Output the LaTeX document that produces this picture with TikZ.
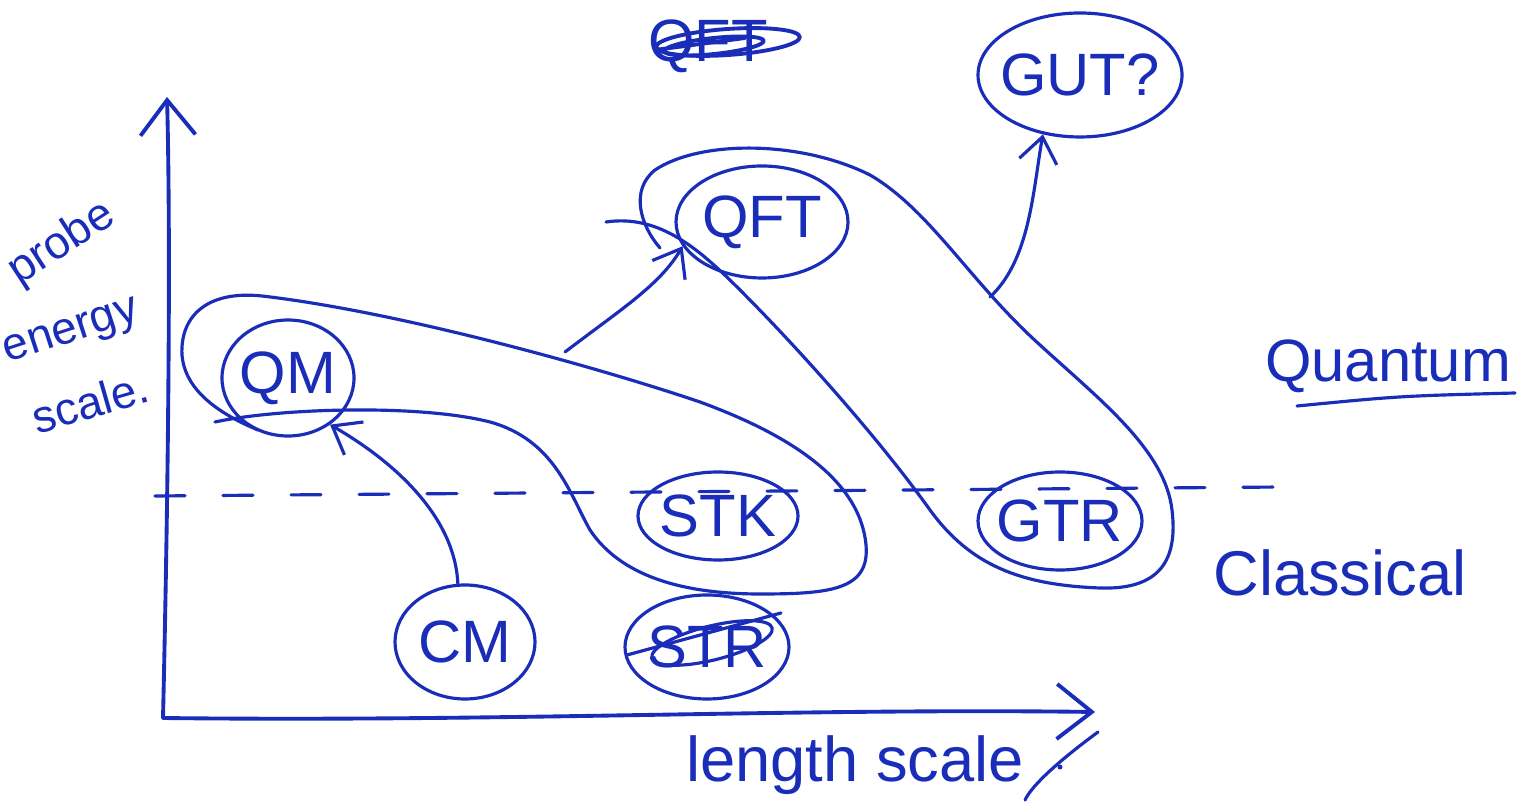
\documentclass[tikz,border=0pt]{standalone}
\usepackage{fontspec}
\setmainfont{Liberation Sans}
\usetikzlibrary{shapes.geometric,arrows.meta}
\definecolor{ink}{RGB}{25,45,185}
\begin{document}
\begin{tikzpicture}[x=0.1mm,y=-0.1mm, line cap=round, line join=round,
  pen/.style={draw=ink, line width=0.9pt},
  oval/.style={ellipse, draw=ink, line width=0.9pt, inner sep=0pt},
  lbl/.style={text=ink, inner sep=0pt, font=\fontsize{17}{20}\selectfont},
  hand/.style={text=ink, inner sep=0pt, font=\fontsize{17}{20}\selectfont},
  side/.style={text=ink, inner sep=0pt, font=\fontsize{13}{15}\selectfont},
  tip/.style={-{Straight Barb[length=2.5mm,width=3.8mm]}},
  axis/.style={draw=ink, line width=1.1pt, -{Straight Barb[length=3.5mm,width=5.5mm]}}]
\useasboundingbox (0,0) rectangle (1518,806);
\fill[white] (0,0) rectangle (1518,806);

% axes
\coordinate (origin) at (163,718);
\coordinate (ytop) at (167,97);
\coordinate (xend) at (1095,712);
\draw[axis] (origin) .. controls (168,500) and (171,250) .. (ytop);
\draw[axis] (origin) .. controls (500,722) and (800,708) .. (xend);

% dashed quantum/classical border
\coordinate (dl) at (155,496);
\coordinate (dr) at (1282,487);
\draw[pen, dash pattern=on 3mm off 3.8mm] (dl) -- (dr);

% ovals
\node[oval, minimum width=13.2mm, minimum height=11.6mm] (QM) at (288,378) {};
\node[lbl] (QMt) at (QM) {QM};
\node[oval, minimum width=14mm, minimum height=11.4mm] (CM) at (465,642) {};
\node[lbl] (CMt) at (CM) {CM};
\node[oval, minimum width=16.4mm, minimum height=10.4mm] (STR) at (707,647) {};
\node[lbl] (STRt) at (STR) {STR};
\node[oval, minimum width=16mm, minimum height=8.8mm] (STK) at (718,516) {};
\node[lbl] (STKt) at (STK) {STK};
\node[oval, minimum width=16.4mm, minimum height=9.8mm] (GTR) at (1060,521) {};
\node[lbl] (GTRt) at (GTR) {GTR};
\node[oval, minimum width=17.2mm, minimum height=11.2mm] (QFT) at (762,222) {};
\node[lbl] (QFTt) at (QFT) {QFT};
\node[oval, minimum width=20.4mm, minimum height=12.4mm] (GUT) at (1080,75) {};
\node[lbl] (GUTt) at (GUT) {GUT?};

% crossing out STR
\coordinate (sa) at (627,655);
\coordinate (sb) at (781,613);
\draw[pen] (sa) -- (sb);
\draw[pen] (STR.center) ++(5,-4) ellipse [x radius=6.2mm, y radius=1.7mm, rotate=14];

% crossed-out QFT at top
\node[lbl] (oldQFT) at (708,46) {QFT};
\draw[pen, line width=1.1pt] (oldQFT.center) ++(20,-4) ellipse [x radius=7.2mm, y radius=1.3mm, rotate=4];
\draw[pen, line width=1.1pt] (oldQFT.center) ++(6,0) ellipse [x radius=5mm, y radius=0.8mm, rotate=6];
\coordinate (oa) at (655,50);
\coordinate (ob) at (745,38);
\draw[pen, line width=1.1pt] (oa) -- (ob);

% big loop 1 (QM + STK)
\draw[pen] (215,422) .. controls (280,408) and (420,404) .. (490,422)
  .. controls (555,440) and (570,495) .. (590,530)
  .. controls (620,575) and (680,594) .. (760,594)
  .. controls (830,594) and (870,590) .. (866,545)
  .. controls (860,480) and (790,435) .. (700,402)
  .. controls (600,368) and (400,312) .. (262,296)
  .. controls (205,290) and (180,318) .. (182,355)
  .. controls (185,392) and (222,415) .. (258,430);
\coordinate (l1) at (565,352);

% big loop 2 (QFT + GTR)
\draw[pen] (606,222) .. controls (660,214) and (700,250) .. (740,290)
  .. controls (800,350) and (880,440) .. (930,510)
  .. controls (970,565) and (1020,585) .. (1100,588)
  .. controls (1160,590) and (1178,560) .. (1172,510)
  .. controls (1165,450) and (1100,400) .. (1040,345)
  .. controls (970,282) and (930,210) .. (870,175)
  .. controls (800,140) and (700,140) .. (655,170)
  .. controls (630,190) and (640,225) .. (660,248);
\coordinate (l2) at (990,297);

% arrows
\draw[pen, tip] (CM.97) .. controls (455,520) and (400,465) .. (QM.-48);
\draw[pen, tip] (l1) .. controls (620,310) and (660,285) .. (QFT.197);
\draw[pen, tip] (l2) .. controls (1030,260) and (1033,190) .. (GUT.-122);

% text labels
\node[side, rotate=33] (probe) at (62,244) {probe};
\node[side, rotate=18] (energy) at (72,334) {energy};
\node[side, rotate=16] (scalet) at (90,402) {scale.};
\node[hand] (quantum) at (1388,366) {Quantum};
\coordinate (ua) at (1297,406);
\coordinate (ub) at (1515,393);
\draw[pen] (ua) .. controls (1400,396) .. (ub);
\node[hand, font=\fontsize{18}{20}\selectfont] (classical) at (1340,573) {Classical};
\node[hand, font=\fontsize{18}{21}\selectfont] (length) at (855,765) {length scale};
\coordinate (ka) at (1098,732);
\coordinate (kb) at (1025,800);
\draw[pen] (ka) .. controls (1060,760) and (1032,785) .. (kb);
\fill[ink] (1060,767) circle (0.25mm);
\end{tikzpicture}
\end{document}
